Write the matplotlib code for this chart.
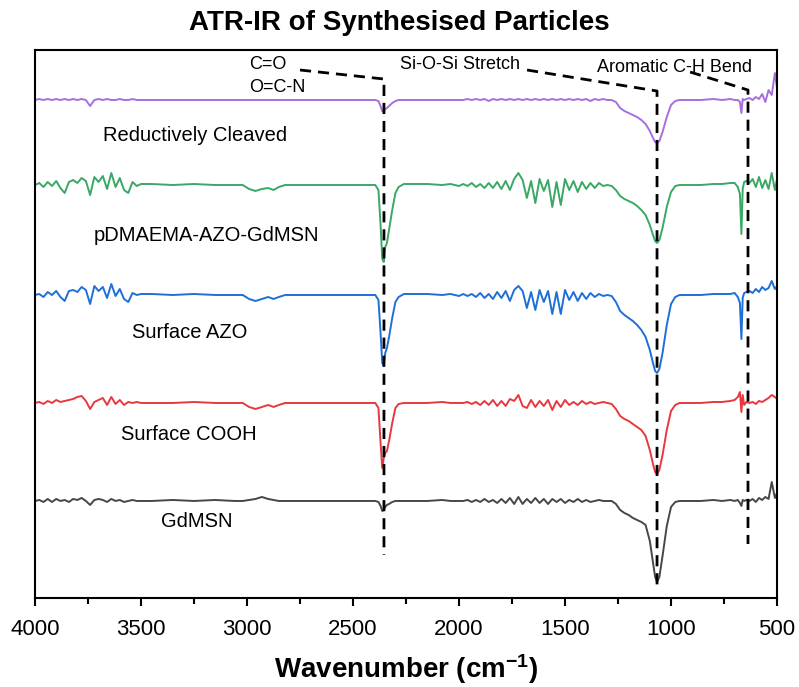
import matplotlib
matplotlib.use('Agg')
import matplotlib.pyplot as plt
from matplotlib.ticker import MultipleLocator
import numpy as np

plt.rcParams['font.family'] = ['Liberation Sans', 'DejaVu Sans']
plt.rcParams['mathtext.default'] = 'regular'

# common wavenumber grid (cm-1)
wn = ([4000, 3980, 3960, 3940, 3920, 3900, 3880, 3860, 3840, 3820, 3800, 3780, 3760,
       3740, 3720, 3700, 3680, 3660, 3640, 3620, 3600, 3580, 3560, 3540, 3520, 3500]
      + [3450, 3350, 3250, 3150, 3060]
      + [3020, 2990, 2960, 2930, 2900, 2875, 2850, 2820]
      + [2700, 2550, 2420, 2395]
      + [2380, 2370, 2362, 2355, 2348, 2340, 2330, 2315, 2300, 2285, 2260, 2220]
      + [2150, 2080, 2040, 2000]
      + [1980, 1960, 1940, 1920, 1900, 1880, 1860, 1840, 1820, 1800, 1780, 1760, 1740,
         1720, 1700, 1680, 1660, 1640, 1620, 1600, 1580, 1560, 1540, 1520, 1500, 1480,
         1460, 1440, 1420, 1400, 1380, 1360, 1340, 1320, 1300]
      + [1280, 1260, 1240, 1220, 1200, 1180, 1160, 1140, 1120, 1100, 1085, 1075, 1066,
         1055, 1040, 1020, 1000, 980, 960]
      + [920, 860, 800, 760, 720, 700, 685, 675, 668, 662, 655, 645, 630, 615, 600, 585,
         570, 555, 540, 525, 510, 500])

# transmittance traces (relative units), stacked with offsets below
gdmsn = ([0, 1, -1, 2, -1, 2, 0, 1, -1, 2, 1, 3, 0, -4, 1, 2, 1, -1, 2, 0, 1, -1, 0, 1, 0, 0]
         + [0, 1, 0, 1, 0]
         + [0, 1, 2, 4, 2, 1, 0, 0]
         + [0, 0, 0, 0]
         + [-1, -5, -10, -9, -6, -4, -3, -1, 0, 0, 0, 0]
         + [0, 1, 0, 0]
         + [0, 1, -1, 1, -1, 2, -1, 1, -2, 2, -2, 3, -3, 4, -3, 2, -2, 3, -2, 2, -3, 2,
            -1, 2, -2, 1, -1, 2, -1, 1, -1, 0, 1, 0, 0]
         + [0, -3, -9, -12, -14, -17, -19, -21, -24, -40, -62, -76, -81, -76, -55, -25,
            -6, -1, 0]
         + [0, 0, 1, 0, 1, 0, 1, -2, -5, 1, 0, 1, 0, 2, -1, 3, 1, 4, 2, 19, 3, 8])

cooh = ([0, 1, -1, 2, 0, 3, 1, 2, 3, 4, 6, 7, 2, -6, 1, 3, 5, -2, 6, -1, 3, -2, 1, 0, 1, 0]
        + [0, 0, 1, 0, 0]
        + [0, -4, -6, -4, -2, -4, -2, 0]
        + [0, 0, 0, 0]
        + [-5, -40, -65, -55, -50, -48, -38, -20, -5, -1, 0, 0]
        + [0, 1, 0, 0]
        + [0, 1, -1, 1, -2, 2, -2, 3, -3, 2, -3, 4, 2, 8, -3, -5, 3, -4, 2, -3, 3, -7,
           2, -4, 3, -2, 1, -2, 2, -1, 1, -1, 0, 1, 0]
        + [-1, -6, -13, -16, -18, -21, -24, -27, -33, -47, -61, -69, -71, -67, -52, -27,
           -8, -2, 0]
        + [0, 0, 1, 1, 2, 3, 6, 11, -9, 8, -2, 1, 0, 1, -1, 2, 1, 3, 5, 8, 6, 4])

azo = ([0, 1, -2, 3, 0, 4, -2, -6, 4, 5, 3, 8, 5, -9, 9, 4, 8, -3, 11, -1, 6, -4, -7, 2, 0, 1]
       + [1, 0, 1, 0, 0]
       + [0, -4, -6, -4, -2, -4, -2, 0]
       + [0, 0, 0, 0]
       + [-5, -38, -68, -71, -58, -53, -42, -23, -7, -2, 1, 1]
       + [1, 0, 1, -1]
       + [1, -1, 1, -2, 2, -3, 1, -4, 3, -3, 4, -6, 5, 9, 4, -13, 3, -15, 5, -7, 4, -19,
          3, -19, 5, -5, 3, -6, 2, -4, 2, -2, 1, -1, 0]
       + [-1, -7, -16, -20, -23, -26, -30, -35, -42, -55, -68, -76, -78, -74, -58, -30,
          -9, -2, 0]
       + [0, 0, 1, 1, 1, 2, -2, -8, -44, -3, 2, 3, 4, 2, 6, 3, 8, 5, 7, 14, 6, 9])

pdmaema = ([0, 2, -2, 3, -1, 4, -3, -8, 3, 5, 2, 7, 4, -10, 8, 3, 9, -4, 12, -2, 7, -5, -8, 3, -1, 1]
           + [1, 0, 1, 0, 0]
           + [0, -4, -6, -4, -3, -5, -2, 0]
           + [0, 0, 0, 0]
           + [-5, -40, -74, -77, -62, -58, -45, -25, -8, -2, 1, 1]
           + [1, 0, 1, -1]
           + [1, -1, 2, -2, 1, -3, 2, -3, 3, -4, 4, -5, 6, 12, 5, -13, 4, -18, 6, -6, 5,
              -22, 3, -20, 6, -5, 4, -7, 3, -4, 2, -3, 2, -1, 0]
           + [-1, -5, -11, -14, -16, -18, -21, -25, -30, -40, -50, -56, -58, -55, -43, -22,
              -7, -1, 0]
           + [0, 0, 1, 1, 2, 2, -2, -9, -49, -4, 3, 4, 2, 6, -2, 8, -3, 5, -4, 12, -5, 6])

cleaved = ([0, 1, 0, 1, 0, 1, 0, 1, 0, 1, 0, 1, 0, -6, 0, 1, 0, 1, 0, 0, 1, 0, 0, 1, 0, 0]
           + [0, 0, 0, 0, 0]
           + [0, 0, 0, 0, 0, 0, 0, 0]
           + [0, 0, 0, 0]
           + [-1, -6, -11, -12, -9, -8, -6, -3, -1, 0, 0, 0]
           + [0, 0, 0, 0]
           + [0, 1, 0, 1, 0, 1, -1, 1, 0, 1, 0, 1, 0, 1, 0, 1, 0, 1, 0, 1, 0, 1, 0, 1, 0,
              1, 0, 1, 0, 1, -1, 1, 0, 1, 0]
           + [0, -2, -8, -11, -13, -15, -17, -20, -24, -31, -38, -42, -43, -41, -32, -17,
              -5, -1, 0]
           + [0, 0, 1, 0, 1, 0, 0, -2, -13, 1, 0, 1, 2, 0, 3, 1, 6, -2, 10, 5, 27, 12])

names = ['GdMSN', 'Surface COOH', 'Surface AZO', 'pDMAEMA-AZO-GdMSN', 'Reductively Cleaved']
traces = [gdmsn, cooh, azo, pdmaema, cleaved]
offsets = [97, 195, 303, 413, 498]
colors = ['#474747', '#e8383d', '#1f6fd8', '#3aa865', '#a66fe0']
label_x = [3236, 3274, 3269, 3189, 3245]
label_y = [76, 163, 265, 362, 463]

# peak assignments: leader start, peak position, line top, line bottom
peak_pos = [2354, 1066, 637]
leader_start = [(2750, 528), (1679, 528), (910, 526)]
line_top = [519, 507, 508]
line_bottom = [43, 10, 54]

fig = plt.figure(figsize=(7.99, 6.87), dpi=100)
ax = fig.add_axes([0.0438, 0.1296, 0.9287, 0.7976])

for tr, off, c in zip(traces, offsets, colors):
    ax.plot(wn, np.array(tr) + off, color=c, lw=1.4)

for n, x, y in zip(names, label_x, label_y):
    ax.text(x, y, n, fontsize=14.5, ha='center', va='center')

for (sx, sy), p, t, b in zip(leader_start, peak_pos, line_top, line_bottom):
    ax.plot([sx, p, p], [sy, t, b], color='black', lw=2, ls=(0, (4, 2.5)))

ax.text(2990, 534, 'C=O', fontsize=13, ha='left', va='center')
ax.text(2990, 511, 'O=C-N', fontsize=13, ha='left', va='center')
ax.text(2278, 534, 'Si-O-Si Stretch', fontsize=13, ha='left', va='center')
ax.text(1349, 531, 'Aromatic C-H Bend', fontsize=13, ha='left', va='center')

ax.set_xlim(4000, 500)
ax.set_ylim(0, 548)
ax.set_yticks([])
ax.xaxis.set_major_locator(MultipleLocator(500))
ax.xaxis.set_minor_locator(MultipleLocator(250))
ax.tick_params(axis='x', which='major', direction='out', length=6, width=1.5, labelsize=16, pad=9)
ax.tick_params(axis='x', which='minor', direction='out', length=4, width=1.5)
for s in ax.spines.values():
    s.set_linewidth(1.5)

ax.set_xlabel('Wavenumber (cm$^{-1}$)', fontsize=20, fontweight='bold', labelpad=9)
fig.suptitle('ATR-IR of Synthesised Particles', fontsize=20, fontweight='bold', y=0.985)

fig.savefig('out.png', dpi=100)
